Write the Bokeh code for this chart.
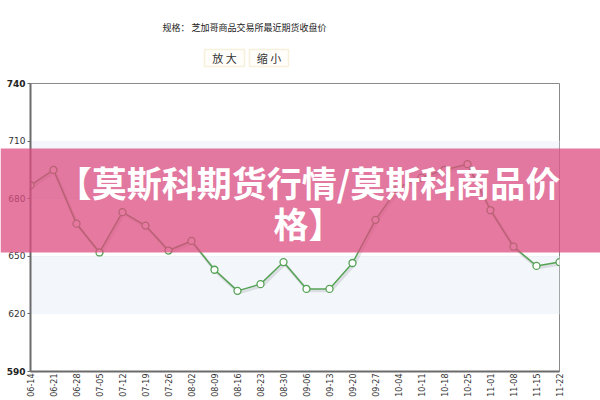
from math import pi
from bokeh.plotting import figure
from bokeh.models import Range1d, FixedTicker, BoxAnnotation, ColumnDataSource
from bokeh.core.properties import value
from bokeh.transform import dodge
from bokeh.embed import file_html
from bokeh.resources import INLINE

# ---- data ----
dates = ["06-14", "06-21", "06-28", "07-05", "07-12", "07-19", "07-26", "08-02",
         "08-09", "08-16", "08-23", "08-30", "09-06", "09-13", "09-20", "09-27",
         "10-04", "10-11", "10-18", "10-25", "11-01", "11-08", "11-15", "11-22"]
prices = [687, 695, 667, 652, 673, 666, 653, 658,
          643, 632, 635.5, 647, 633, 633, 646.5, 669,
          686, 691, 695, 698, 674, 655, 645, 647]
y_ticks = [590, 620, 650, 680, 710, 740]
bold_ticks = [590, 740]
bands = [(620, 650), (680, 710)]
spec_text = "规格：  芝加哥商品交易所最近期货收盘价"
buttons = ["放 大", "缩 小"]
banner_lines = ["【莫斯科期货行情/莫斯科商品价", "格】"]

# ---- layout (page pixel coordinates) ----
W, H = 600, 400
FL, FR, FT, FB = 30, 559, 83, 371

p = figure(width=W, height=H, output_backend="svg", toolbar_location=None,
           x_range=Range1d(0, len(dates) - 1), y_range=Range1d(y_ticks[0], y_ticks[-1]),
           min_border_left=FL, min_border_right=W - FR,
           min_border_top=FT, min_border_bottom=H - FB)
p.background_fill_color = "white"
p.border_fill_color = "white"
p.outline_line_color = "#8a8a8a"
p.outline_line_width = 1

for lo, hi in bands:
    p.add_layout(BoxAnnotation(bottom=lo, top=hi, fill_color="#f3f7fc", fill_alpha=1,
                               line_color=None, level="underlay"))

p.xgrid.visible = False
p.ygrid.ticker = FixedTicker(ticks=y_ticks)
p.ygrid.grid_line_color = "#dde3ea"

p.yaxis.ticker = FixedTicker(ticks=y_ticks)
p.yaxis.major_label_overrides = {t: " " for t in bold_ticks}
p.yaxis.major_label_text_font = "DejaVu Sans"
p.yaxis.major_label_text_font_size = "9px"
p.yaxis.major_label_text_color = "#333333"
p.yaxis.major_tick_out = 3
p.yaxis.major_tick_in = 0
p.yaxis.minor_tick_line_color = None
p.yaxis.major_tick_line_color = "#666666"
p.yaxis.major_label_standoff = 2
p.yaxis.axis_line_color = "#6b6b6b"
p.yaxis.axis_line_width = 2

p.xaxis.ticker = FixedTicker(ticks=list(range(len(dates))))
p.xaxis.major_label_overrides = {i: d for i, d in enumerate(dates)}
p.xaxis.major_label_orientation = pi / 2
p.xaxis.major_label_text_font = "DejaVu Sans"
p.xaxis.major_label_text_font_size = "8px"
p.xaxis.major_label_text_color = "#333333"
p.xaxis.major_tick_line_color = None
p.xaxis.major_tick_out = 0
p.xaxis.major_tick_in = 0
p.xaxis.minor_tick_line_color = None
p.xaxis.minor_tick_out = 0
p.xaxis.major_label_standoff = 2
p.xaxis.axis_line_color = "#6b6b6b"
p.xaxis.axis_line_width = 2

src = ColumnDataSource(data=dict(x=list(range(len(dates))), y=prices))
p.line(x=dodge("x", 0.06), y=dodge("y", -1.0), source=src,
       line_color="#000000", line_alpha=0.10, line_width=3)
p.line(x="x", y="y", source=src, line_color="#55a255", line_width=1.5)
p.scatter(x="x", y="y", source=src, size=7, marker="circle",
          fill_color="white", line_color="#55a255", line_width=1.3)

# ---- overlay canvas (page pixel units): header, bold end labels, banner ----
o = figure(width=W, height=H, output_backend="svg", toolbar_location=None,
           x_range=Range1d(0, W), y_range=Range1d(H, 0),
           x_axis_type=None, y_axis_type=None,
           min_border_left=0, min_border_right=0, min_border_top=0, min_border_bottom=0)
o.grid.visible = False
o.outline_line_color = None
o.background_fill_alpha = 0
o.border_fill_alpha = 0
o.margin = (-H, 0, 0, 0)

o.text(x=[FL - 5] * 2, y=[FB, FT], text=[str(t) for t in bold_ticks],
       text_align="right", text_baseline="middle", text_font=value("DejaVu Sans"),
       text_font_size="9px", text_font_style="bold", text_color="#222222")

o.text(x=[162], y=[27], text=[spec_text], text_align="left", text_baseline="middle",
       text_font=value("Noto Sans CJK SC"), text_font_size="9px", text_color="#222222")

btn_boxes = [(204, 244), (249, 288)]
for (l, r), txt in zip(btn_boxes, buttons):
    o.add_layout(BoxAnnotation(left=l, right=r, top=49, bottom=66,
                               fill_color="#fffefa", fill_alpha=1,
                               line_color="#e6cf90", line_width=1.5))
o.text(x=[(l + r) / 2 for l, r in btn_boxes], y=[57.5, 57.5], text=buttons,
       text_align="center", text_baseline="middle", text_font=value("Noto Sans CJK SC"),
       text_font_size="11px", text_color="#333333", level="overlay")

o.add_layout(BoxAnnotation(left=0, right=W, top=148, bottom=252,
                           fill_color="#dc4c80", fill_alpha=0.75, line_color=None))
o.text(x=[308, 308], y=[181, 222], text=banner_lines, text_align="center",
       text_baseline="middle", text_font=value("Noto Sans CJK SC"),
       text_font_size="35px", text_font_style="bold", text_color="white",
       level="overlay")

open("out.html", "w").write(file_html([p, o], INLINE))
